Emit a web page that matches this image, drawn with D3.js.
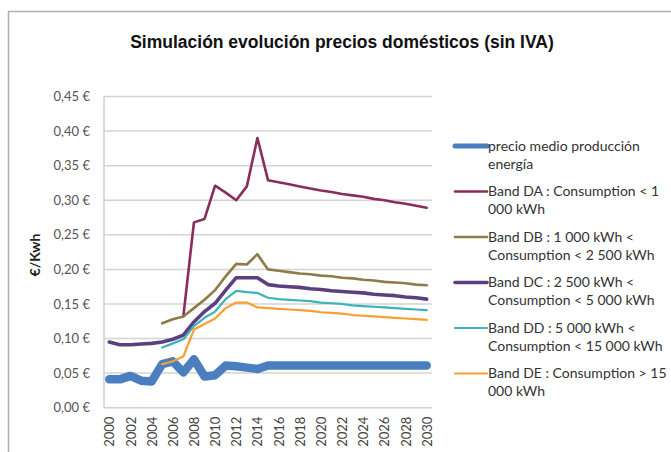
<!DOCTYPE html>
<html><head><meta charset="utf-8">
<script src="https://cdn.jsdelivr.net/npm/d3@7/dist/d3.min.js"></script>
<style>body{margin:0;background:#fff}svg{display:block}</style>
</head><body>
<script>
const years = d3.range(2000, 2031);
const yTicks = [0,0.05,0.10,0.15,0.20,0.25,0.30,0.35,0.40,0.45];
const xTickYears = d3.range(2000, 2031, 2);
const title = "Simulación evolución precios domésticos (sin IVA)";
const yLabel = "€/Kwh";

const precioMedio = [0.041,0.041,0.046,0.039,0.038,0.063,0.067,0.051,0.070,0.045,0.047,0.061,0.060,0.058,0.056,0.061,0.061,0.061,0.061,0.061,0.061,0.061,0.061,0.061,0.061,0.061,0.061,0.061,0.061,0.061,0.061];
const bandDA = [null,null,null,null,null,null,null,0.132,0.268,0.273,0.321,0.311,0.300,0.320,0.390,0.329,0.326,0.323,0.320,0.317,0.314,0.312,0.309,0.307,0.305,0.302,0.300,0.297,0.295,0.292,0.289];
const bandDB = [null,null,null,null,null,0.122,0.128,0.132,0.144,0.156,0.170,0.190,0.208,0.207,0.222,0.200,0.198,0.196,0.194,0.193,0.191,0.190,0.188,0.187,0.185,0.184,0.182,0.181,0.180,0.178,0.177];
const bandDC = [0.095,0.091,0.091,0.092,0.093,0.095,0.099,0.105,0.124,0.139,0.151,0.170,0.188,0.188,0.188,0.178,0.176,0.175,0.174,0.172,0.171,0.169,0.168,0.167,0.166,0.164,0.163,0.162,0.160,0.159,0.157];
const bandDD = [null,null,null,null,null,0.087,0.093,0.099,0.118,0.130,0.139,0.157,0.169,0.167,0.166,0.159,0.157,0.156,0.155,0.154,0.152,0.151,0.150,0.148,0.147,0.146,0.145,0.144,0.143,0.142,0.141];
const bandDE = [null,null,null,null,null,0.063,0.067,0.074,0.113,0.121,0.129,0.144,0.152,0.152,0.145,0.144,0.143,0.142,0.141,0.140,0.138,0.137,0.136,0.134,0.133,0.132,0.131,0.130,0.129,0.128,0.127];

const seriesNames = [
  ["precio medio producción","energía"],
  ["Band DA : Consumption < 1","000 kWh"],
  ["Band DB : 1 000 kWh <","Consumption < 2 500 kWh"],
  ["Band DC : 2 500 kWh <","Consumption < 5 000 kWh"],
  ["Band DD : 5 000 kWh <","Consumption < 15 000 kWh"],
  ["Band DE : Consumption > 15","000 kWh"]
];
const seriesValues = [precioMedio, bandDA, bandDB, bandDC, bandDD, bandDE];
const colors = ["#4a7ebf","#8a2c5c","#8d7b4a","#5b3f80","#3ab4b8","#f4a035"];
const widths = [8.5, 2.6, 2.6, 3.6, 2.2, 2.2];

const W = 671, H = 452;
const svg = d3.select("body").append("svg").attr("width", W).attr("height", H)
  .style("font-family", "Lato, 'Open Sans', sans-serif");

// frame
svg.append("path").attr("d", `M8.5,${H} V11.5 H${W}`).attr("fill","none").attr("stroke","#a3b2bd").attr("stroke-width",1.5);

svg.append("text").attr("x", 342).attr("y", 48).attr("text-anchor","middle")
  .style("font-family","'Liberation Sans', Arial, sans-serif").style("font-weight","bold").style("font-size","17.5px")
  .attr("fill","#111").text(title);

const pLeft = 104, pRight = 432, pTop = 96.5, pBottom = 407.7;
const x = d3.scalePoint().domain(years).range([pLeft, pRight]).padding(0.5);
const y = d3.scaleLinear().domain([0, 0.45]).range([pBottom, pTop]);

const g = svg.append("g");
// grid
g.selectAll("line.grid").data(yTicks).join("line").attr("class","grid")
  .attr("x1", pLeft).attr("x2", pRight).attr("y1", d => y(d)).attr("y2", d => y(d))
  .attr("stroke", "#d3d3d3").attr("stroke-width", 1.5);
g.append("line").attr("x1", pLeft).attr("x2", pLeft).attr("y1", pTop).attr("y2", pBottom)
  .attr("stroke","#cfcfcf").attr("stroke-width",1.5);

// y axis labels
const yAxis = d3.axisLeft(y).tickValues(yTicks).tickSize(0).tickPadding(0)
  .tickFormat(d => d3.format(".2f")(d).replace(".", ",") + " €");
const ya = svg.append("g").attr("transform", `translate(${pLeft-14},0)`).call(yAxis);
ya.select(".domain").remove();
ya.selectAll("text").attr("fill","#555").style("font-size","13px").style("font-family","Lato, sans-serif");

// x axis labels
const xAxis = d3.axisBottom(x).tickValues(xTickYears).tickSize(0).tickPadding(0);
const xa = svg.append("g").attr("transform", `translate(0,${pBottom})`).call(xAxis);
xa.select(".domain").remove();
xa.selectAll("text").attr("fill","#444").style("font-size","13px").style("font-family","Lato, sans-serif")
  .attr("transform","rotate(-90)").attr("text-anchor","end").attr("x", -9).attr("y", 0).attr("dy","0.35em");

// y label
svg.append("text").attr("transform","translate(40,255) rotate(-90)").attr("text-anchor","middle")
  .style("font-weight","bold").style("font-size","14px").attr("fill","#222").text(yLabel);

// lines
const line = d3.line().defined(d => d.v != null).x(d => x(d.yr)).y(d => y(d.v)).curve(d3.curveLinear);
seriesValues.forEach((vals, i) => {
  const data = vals.map((v, k) => ({yr: years[k], v}));
  g.append("path").datum(data).attr("d", line).attr("fill","none")
    .attr("stroke", colors[i]).attr("stroke-width", widths[i])
    .attr("stroke-linejoin","round").attr("stroke-linecap","round");
});

// legend
const leg = svg.append("g");
const legTop = 146, step = 45.5;
seriesNames.forEach((lines, i) => {
  const yy = legTop + i*step;
  leg.append("line").attr("x1", 455).attr("x2", 487).attr("y1", yy).attr("y2", yy)
    .attr("stroke", colors[i]).attr("stroke-width", Math.min(widths[i], 5)).attr("stroke-linecap","round");
  lines.forEach((t, j) => {
    leg.append("text").attr("x", 488).attr("y", yy + j*18).attr("dy","0.35em")
      .style("font-size","14px").attr("fill","#333").text(t);
  });
});
</script>
</body></html>
